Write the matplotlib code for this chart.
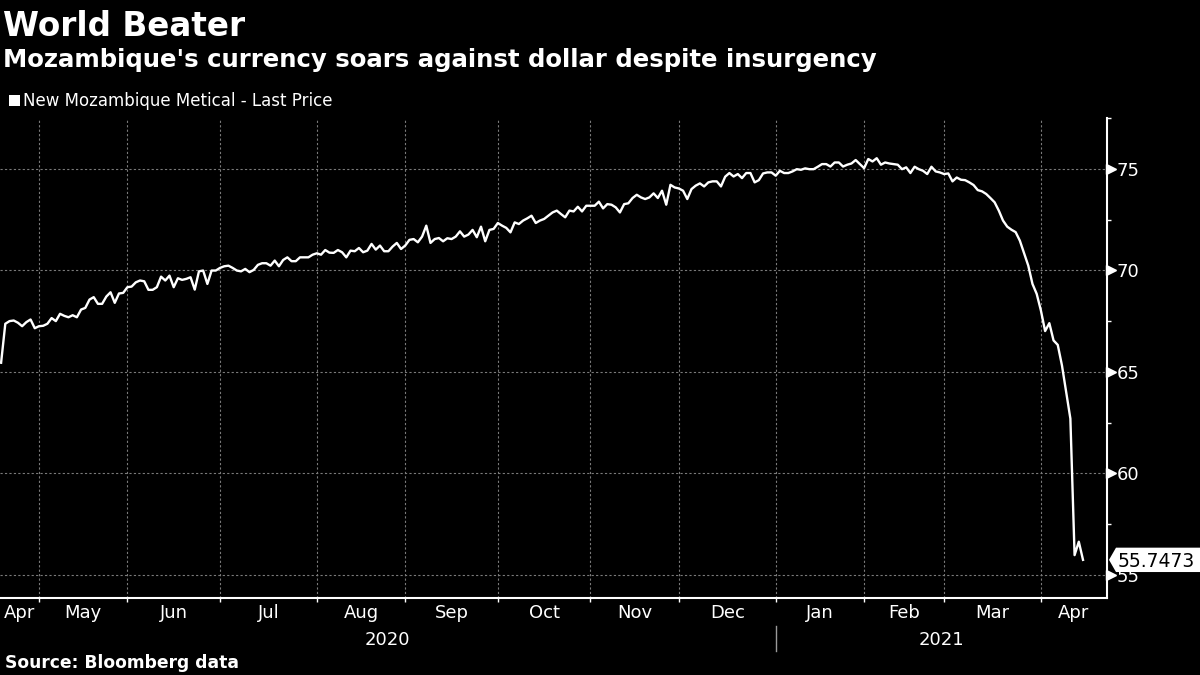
import numpy as np
import pandas as pd
import matplotlib
matplotlib.use("Agg")
import matplotlib.pyplot as plt
import matplotlib.transforms as mtransforms
from matplotlib.patches import Polygon, Rectangle

# USD/MZN last price, one value per trading day
metical_1 = [65.45, 67.37, 67.50, 67.53, 67.42, 67.25, 67.45, 67.58, 67.15, 67.25,
             67.27, 67.37, 67.65, 67.50, 67.86, 67.76, 67.69, 67.79, 67.69, 68.07,
             68.15, 68.56, 68.68, 68.35, 68.35, 68.71, 68.92, 68.40, 68.86, 68.89,
             69.17, 69.20, 69.41, 69.50, 69.46, 69.04, 69.04, 69.17, 69.69, 69.50,
             69.74, 69.17, 69.61, 69.53, 69.58, 69.66, 69.05, 69.95, 69.99, 69.33,
             69.99, 69.99, 70.12, 70.20, 70.23, 70.12, 69.99, 69.95, 70.07, 69.91,
             70.02, 70.27, 70.35, 70.35]
metical_2 = [70.23, 70.48, 70.20, 70.51, 70.64, 70.45, 70.45, 70.64, 70.64, 70.64,
             70.77, 70.84, 70.77, 71.00, 70.87, 70.86, 71.00, 70.89, 70.64, 70.97,
             70.94, 71.10, 70.89, 70.97, 71.30, 71.02, 71.22, 70.94, 70.94, 71.17,
             71.35, 71.05, 71.22, 71.50, 71.54, 71.38, 71.66, 72.20, 71.35, 71.54,
             71.59, 71.43, 71.58, 71.54, 71.66, 71.92, 71.66, 71.76, 71.99, 71.63,
             72.15, 71.43, 71.99, 72.04, 72.33, 72.20, 72.09, 71.87, 72.36, 72.28,
             72.45, 72.56, 72.69, 72.33, 72.45, 72.53, 72.69]
metical_3 = [72.85, 72.94, 72.77, 72.61, 72.94, 72.90, 73.13, 72.90, 73.18, 73.18,
             73.18, 73.38, 73.05, 73.26, 73.23, 73.10, 72.85, 73.26, 73.30, 73.56,
             73.72, 73.59, 73.51, 73.59, 73.79, 73.56, 73.92, 73.23, 74.21, 74.08,
             74.03, 73.92, 73.51, 74.00, 74.17, 74.28, 74.13, 74.33, 74.38, 74.38,
             74.13, 74.61, 74.79, 74.62, 74.74, 74.54, 74.79, 74.79, 74.33, 74.44,
             74.77, 74.82, 74.82, 74.66, 74.90, 74.79, 74.79, 74.87, 74.98, 74.95,
             75.02]
metical_4 = [74.98, 74.98, 75.10, 75.23, 75.23, 75.11, 75.31, 75.31, 75.11, 75.20,
             75.26, 75.43, 75.23, 75.03, 75.48, 75.36, 75.52, 75.20, 75.31, 75.26,
             75.23, 75.20, 74.98, 75.07, 74.79, 75.10, 74.98, 74.90, 74.74, 75.10,
             74.87, 74.82, 74.74, 74.77, 74.38, 74.57, 74.46, 74.44, 74.33, 74.20,
             73.95, 73.89, 73.76, 73.56, 73.35, 72.94, 72.45, 72.15]
metical_5 = [72.00, 71.88, 71.46, 70.84, 70.23, 69.33, 68.84, 68.02, 67.01, 67.40,
             66.55, 66.33, 65.32, 64.01, 62.70, 55.98, 56.64, 55.7473]
metical = np.array(metical_1 + metical_2 + metical_3 + metical_4 + metical_5)

dates = pd.bdate_range("2020-04-20", "2021-04-15").drop(pd.Timestamp("2021-02-15"))
assert len(dates) == len(metical)

y_ticks = [55, 60, 65, 70, 75]
last_label = "55.7473"

BG = "black"
FG = "white"
GRID = "#7a7a7a"

fig = plt.figure(figsize=(12, 6.75), dpi=100, facecolor=BG)
ax = fig.add_axes([0.0, 0.1141, 0.9225, 0.7111], facecolor=BG)

x = np.arange(len(metical))
ax.plot(x, metical, color=FG, lw=1.7, zorder=3)

ax.set_xlim(-0.26, 262.7)
ax.set_ylim(53.87, 77.46)

# month boundaries = first trading day of each month
periods = pd.Series(dates.to_period("M"))
bounds = list(np.where(periods.ne(periods.shift()).values)[0][1:])
names = [dates[0].strftime("%b")] + [dates[b].strftime("%b") for b in bounds]
edges = [ax.get_xlim()[0]] + bounds + [ax.get_xlim()[1]]
mids = [(edges[i] + edges[i + 1]) / 2 for i in range(len(edges) - 1)]

ax.set_xticks(bounds)
ax.set_xticklabels([])
ax.set_xticks(mids, minor=True)
ax.set_xticklabels(names, minor=True)
ax.tick_params(axis="x", which="major", length=3, width=1, color=FG, direction="out")
ax.tick_params(axis="x", which="minor", length=0, pad=4, labelsize=13, labelcolor=FG)

ax.yaxis.tick_right()
ax.set_yticks(y_ticks)
ax.set_yticks([57.5, 62.5, 67.5, 72.5, 77.5], minor=True)
ax.tick_params(axis="y", which="major", length=0, pad=7, labelsize=13, labelcolor=FG)
ax.tick_params(axis="y", which="minor", length=3, width=1, color=FG, direction="out")

ax.grid(True, which="major", color=GRID, linestyle=(0, (2, 2)), linewidth=0.8)

for side in ["left", "top"]:
    ax.spines[side].set_visible(False)
for side in ["right", "bottom"]:
    ax.spines[side].set_color(FG)
    ax.spines[side].set_linewidth(1.5)

# triangle markers on the right axis
tri_tr = mtransforms.offset_copy(ax.get_yaxis_transform(), fig=fig, x=3.5, y=0, units="dots")
ax.plot([1] * len(y_ticks), y_ticks, ls="", marker=">", ms=7, color=FG,
        transform=tri_tr, clip_on=False, zorder=4)

# last-value tag (covers part of the 55 label, as in the original)
v = metical[-1]
h = 0.6
w = 1107.0
tag = Polygon([(1 + 2 / w, v), (1 + 9 / w, v + h), (1 + 95 / w, v + h),
               (1 + 95 / w, v - h), (1 + 9 / w, v - h)], closed=True,
              facecolor=FG, edgecolor="none", transform=ax.get_yaxis_transform(),
              clip_on=False, zorder=5)
ax.add_patch(tag)
ax.text(1 + 49 / w, v, last_label, transform=ax.get_yaxis_transform(), ha="center",
        va="center_baseline", fontsize=13.5, color="black", zorder=6, clip_on=False)

# year labels and separator
jan = bounds[names.index("Jan") - 1]
fig_w = 1200.0
ax_x = lambda d: ax.transData.transform((d, 0))[0] / fig_w
fig.canvas.draw()
x0 = ax_x(ax.get_xlim()[0])
xj = ax_x(jan)
x1 = ax_x(ax.get_xlim()[1])
fig.text((x0 + xj) / 2, 1 - 645 / 675, "2020", ha="center", va="baseline", fontsize=13, color=FG)
fig.text((xj + x1) / 2, 1 - 645 / 675, "2021", ha="center", va="baseline", fontsize=13, color=FG)
fig.add_artist(plt.Line2D([xj, xj], [1 - 626 / 675, 1 - 651 / 675], color="#9a9a9a", lw=1))

# titles, legend, source
fig.text(3 / fig_w, 1 - 36.5 / 675, "World Beater", ha="left", va="baseline",
         fontsize=23.5, fontweight="bold", color=FG)
fig.text(3 / fig_w, 1 - 66.5 / 675, "Mozambique's currency soars against dollar despite insurgency",
         ha="left", va="baseline", fontsize=17.6, fontweight="bold", color=FG)
fig.add_artist(Rectangle((9 / fig_w, 1 - 106 / 675), 11 / fig_w, 11 / 675,
                         facecolor=FG, edgecolor="none", transform=fig.transFigure))
fig.text(23 / fig_w, 1 - 106 / 675, "New Mozambique Metical - Last Price", ha="left",
         va="baseline", fontsize=12, color=FG)
fig.text(5 / fig_w, 1 - 668 / 675, "Source: Bloomberg data", ha="left", va="baseline",
         fontsize=12.3, fontweight="bold", color=FG)

fig.savefig("out.png", dpi=100, facecolor=BG)
